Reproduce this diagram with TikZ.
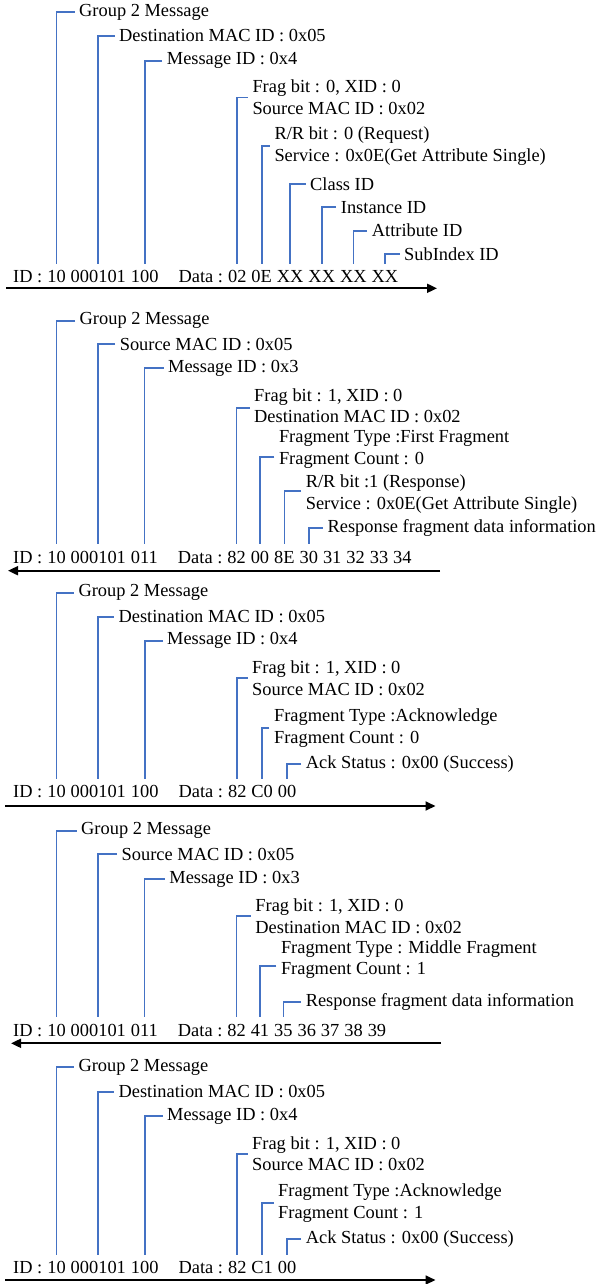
\documentclass[tikz,border=0pt]{standalone}
\usepackage{fontspec}
\setmainfont{Liberation Serif}
\usepackage{tikz}
\usetikzlibrary{arrows.meta,positioning}
\definecolor{linkblue}{HTML}{4472C4}

\begin{document}
\begin{tikzpicture}[x=1pt,y=-1pt,
  every node/.style={font=\fontsize{18.4}{21.7}\selectfont},
  field/.style={inner xsep=0pt,inner ysep=6pt,text height=13pt,text depth=4pt},
  lbl/.style={anchor=west,align=left,inner xsep=4.5pt,inner ysep=0pt},
  brk/.style={draw=linkblue,line width=1.7pt},
  msg/.style={-{Triangle[length=10pt,width=9pt]},line width=1.8pt}]
  \useasboundingbox (0,0) rectangle (599,1284);

  \node[field,anchor=base west] (p1id) at (13,282.9) {ID :};
  \node[field,right=4.6pt of p1id] (p1a) {10};
  \node[field,right=4.6pt of p1a] (p1b) {000101};
  \node[field,right=4.6pt of p1b] (p1c) {100};
  \node[field,right=19.7pt of p1c] (p1d0) {Data :};
  \foreach \t [count=\i,remember=\i as \j (initially 0)] in {02,0E,XX,XX,XX,XX}
    \node[field,right=4.6pt of p1d\j] (p1d\i) {\t};
  \node[lbl] (p1grp) at (74.5,12.3) {Group 2 Message};
  \node[lbl] (p1mac) at (114.5,36) {Destination MAC ID : 0x05};
  \node[lbl] (p1msg) at (162.2,60.7) {Message ID : 0x4};
  \node[lbl] (p1frag) at (247.8,97.5) {Frag bit : 0, XID : 0\\Source MAC ID : 0x02};
  \node[lbl] (p1svc) at (269.8,145.9) {R/R bit : 0 (Request)\\Service : 0x0E(Get Attribute Single)};
  \node[lbl] (p1cls) at (305.5,184) {Class ID};
  \node[lbl] (p1ins) at (336.2,207.3) {Instance ID};
  \node[lbl] (p1att) at (367.2,230.7) {Attribute ID};
  \node[lbl] (p1sub) at (399.5,254) {SubIndex ID};
  \draw[brk] (p1grp.west) -| (p1a.north);
  \draw[brk] (p1mac.west) -| (p1b.north);
  \draw[brk] (p1msg.west) -| (p1c.north);
  \draw[brk] (p1frag.west) -| (p1d1.north);
  \draw[brk] (p1svc.west) -| (p1d2.north);
  \draw[brk] (p1cls.west) -| (p1d3.north);
  \draw[brk] (p1ins.west) -| (p1d4.north);
  \draw[brk] (p1att.west) -| (p1d5.north);
  \draw[brk] (p1sub.west) -| (p1d6.north);
  \coordinate (p1s) at (6,288.3);
  \coordinate (p1e) at (437,288.3);
  \draw[msg] (p1s) -- (p1e);

  \node[field,anchor=base west] (p2id) at (13,563.5) {ID :};
  \node[field,right=4.6pt of p2id] (p2a) {10};
  \node[field,right=4.6pt of p2a] (p2b) {000101};
  \node[field,right=4.6pt of p2b] (p2c) {011};
  \node[field,right=19.7pt of p2c] (p2d0) {Data :};
  \foreach \t [count=\i,remember=\i as \j (initially 0)] in {82,00,8E,30,31,32,33,34}
    \node[field,right=4.6pt of p2d\j] (p2d\i) {\t};
  \node[lbl] (p2grp) at (75,320.7) {Group 2 Message};
  \node[lbl] (p2mac) at (115.1,344.3) {Source MAC ID : 0x05};
  \node[lbl] (p2msg) at (163.5,368.3) {Message ID : 0x3};
  \node[lbl] (p2frag) at (249.5,405.8) {Frag bit : 1, XID : 0\\Destination MAC ID : 0x02};
  \node[lbl] (p2typ) at (274.3,449.2) {Fragment Type :First Fragment\\Fragment Count : 0};
  \node[lbl] (p2svc) at (301.1,494.2) {R/R bit :1 (Response)\\Service : 0x0E(Get Attribute Single)};
  \node[lbl] (p2rsp) at (322.9,528.3) {Response fragment data information};
  \draw[brk] (p2grp.west) -| (p2a.north);
  \draw[brk] (p2mac.west) -| (p2b.north);
  \draw[brk] (p2msg.west) -| (p2c.north);
  \draw[brk] ([yshift=-2.5pt]p2frag.west) -| (p2d1.north);
  \draw[brk] ([yshift=-7.5pt]p2typ.west) -| (p2d2.north);
  \draw[brk] ([yshift=3.3pt]p2svc.west) -| (p2d3.north);
  \draw[brk] (p2rsp.west) -| (p2d4.north);
  \coordinate (p2s) at (440,570.7);
  \coordinate (p2e) at (8,570.7);
  \draw[msg] (p2s) -- (p2e);

  \node[field,anchor=base west] (p3id) at (13,797.9) {ID :};
  \node[field,right=4.6pt of p3id] (p3a) {10};
  \node[field,right=4.6pt of p3a] (p3b) {000101};
  \node[field,right=4.6pt of p3b] (p3c) {100};
  \node[field,right=19.7pt of p3c] (p3d0) {Data :};
  \foreach \t [count=\i,remember=\i as \j (initially 0)] in {82,C0,00}
    \node[field,right=4.6pt of p3d\j] (p3d\i) {\t};
  \node[lbl] (p3grp) at (73.8,592.7) {Group 2 Message};
  \node[lbl] (p3mac) at (113.9,616.7) {Destination MAC ID : 0x05};
  \node[lbl] (p3msg) at (162.5,640.7) {Message ID : 0x4};
  \node[lbl] (p3frag) at (247.5,678.2) {Frag bit : 1, XID : 0\\Source MAC ID : 0x02};
  \node[lbl] (p3typ) at (269.4,728.3) {Fragment Type :Acknowledge\\Fragment Count : 0};
  \node[lbl] (p3ack) at (301.1,764.3) {Ack Status : 0x00 (Success)};
  \draw[brk] (p3grp.west) -| (p3a.north);
  \draw[brk] (p3mac.west) -| (p3b.north);
  \draw[brk] (p3msg.west) -| (p3c.north);
  \draw[brk] (p3frag.west) -| (p3d1.north);
  \draw[brk] (p3typ.west) -| (p3d2.north);
  \draw[brk] (p3ack.west) -| (p3d3.north);
  \coordinate (p3s) at (5,806);
  \coordinate (p3e) at (435.5,806);
  \draw[msg] (p3s) -- (p3e);

  \node[field,anchor=base west] (p4id) at (13,1036.2) {ID :};
  \node[field,right=4.6pt of p4id] (p4a) {10};
  \node[field,right=4.6pt of p4a] (p4b) {000101};
  \node[field,right=4.6pt of p4b] (p4c) {011};
  \node[field,right=19.7pt of p4c] (p4d0) {Data :};
  \foreach \t [count=\i,remember=\i as \j (initially 0)] in {82,41,35,36,37,38,39}
    \node[field,right=4.6pt of p4d\j] (p4d\i) {\t};
  \node[lbl] (p4grp) at (76.5,830.7) {Group 2 Message};
  \node[lbl] (p4mac) at (117,854.3) {Source MAC ID : 0x05};
  \node[lbl] (p4msg) at (164.7,879) {Message ID : 0x3};
  \node[lbl] (p4frag) at (250.7,916.2) {Frag bit : 1, XID : 0\\Destination MAC ID : 0x02};
  \node[lbl] (p4typ) at (276.3,959.7) {Fragment Type : Middle Fragment\\Fragment Count : 1};
  \node[lbl] (p4rsp) at (301.1,1001.7) {Response fragment data information};
  \draw[brk] (p4grp.west) -| (p4a.north);
  \draw[brk] (p4mac.west) -| (p4b.north);
  \draw[brk] (p4msg.west) -| (p4c.north);
  \draw[brk] (p4frag.west) -| (p4d1.north);
  \draw[brk] ([yshift=-6pt]p4typ.west) -| (p4d2.north);
  \draw[brk] (p4rsp.west) -| (p4d3.north);
  \coordinate (p4s) at (441,1043.3);
  \coordinate (p4e) at (11,1043.3);
  \draw[msg] (p4s) -- (p4e);

  \node[field,anchor=base west] (p5id) at (13,1273.9) {ID :};
  \node[field,right=4.6pt of p5id] (p5a) {10};
  \node[field,right=4.6pt of p5a] (p5b) {000101};
  \node[field,right=4.6pt of p5b] (p5c) {100};
  \node[field,right=19.7pt of p5c] (p5d0) {Data :};
  \foreach \t [count=\i,remember=\i as \j (initially 0)] in {82,C1,00}
    \node[field,right=4.6pt of p5d\j] (p5d\i) {\t};
  \node[lbl] (p5grp) at (73.8,1067.3) {Group 2 Message};
  \node[lbl] (p5mac) at (113.9,1091.7) {Destination MAC ID : 0x05};
  \node[lbl] (p5msg) at (162.5,1116) {Message ID : 0x4};
  \node[lbl] (p5frag) at (247.5,1153.7) {Frag bit : 1, XID : 0\\Source MAC ID : 0x02};
  \node[lbl] (p5typ) at (273.5,1203.2) {Fragment Type :Acknowledge\\Fragment Count : 1};
  \node[lbl] (p5ack) at (301.1,1239) {Ack Status : 0x00 (Success)};
  \draw[brk] (p5grp.west) -| (p5a.north);
  \draw[brk] (p5mac.west) -| (p5b.north);
  \draw[brk] (p5msg.west) -| (p5c.north);
  \draw[brk] (p5frag.west) -| (p5d1.north);
  \draw[brk] (p5typ.west) -| (p5d2.north);
  \draw[brk] (p5ack.west) -| (p5d3.north);
  \coordinate (p5s) at (5,1280);
  \coordinate (p5e) at (435.5,1280);
  \draw[msg] (p5s) -- (p5e);
\end{tikzpicture}
\end{document}
